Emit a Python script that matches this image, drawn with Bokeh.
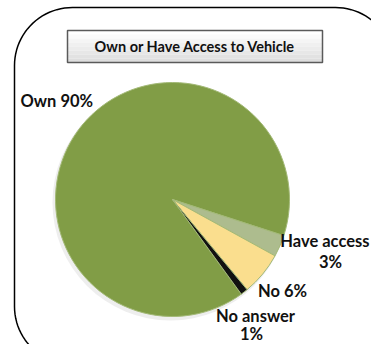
import numpy as np
from bokeh.plotting import figure
from bokeh.models import Range1d, ColumnDataSource
from bokeh.core.properties import value
from bokeh.embed import file_html
from bokeh.resources import INLINE

# ---- data ----
categories = ["Own", "Have access", "No", "No answer"]
percents = [90, 3, 6, 1]
label_lines = ["Own 90%", "Have access", "3%", "No 6%", "No answer", "1%"]
colors = ["#819D46", "#ADBC8E", "#FADE8E", "#111111"]
title_text = "Own or Have Access to Vehicle"

W, H = 371, 344
p = figure(width=W, height=H, output_backend="svg", toolbar_location=None,
           x_range=Range1d(0, 371), y_range=Range1d(0, 344),
           min_border=0, outline_line_color=None, background_fill_color="white")
p.axis.visible = False
p.grid.visible = False

def sy(v):
    return 344 - v

# rounded frame
def rounded_path(x0, x1, y0, y1, r, n=24):
    xs, ys = [], []
    corners = [(x1 - r, y1 - r, 0, 90), (x0 + r, y1 - r, 90, 180),
               (x0 + r, y0 + r, 180, 270), (x1 - r, y0 + r, 270, 360)]
    for cx, cy, a0, a1 in corners:
        t = np.radians(np.linspace(a0, a1, n))
        xs.extend(cx + r * np.cos(t))
        ys.extend(cy + r * np.sin(t))
    xs.append(xs[0]); ys.append(ys[0])
    return xs, ys

fx, fy = rounded_path(14, 393, sy(364), sy(7), 58)
p.line(fx, fy, line_color="black", line_width=1.5)

# title box with slight gradient
bx0, bx1, by0, by1 = 67, 322, sy(62), sy(30)
steps = 8
for i in range(steps):
    g = int(255 - (255 - 222) * i / (steps - 1))
    hh = (by1 - by0) / steps
    top = by1 - i * hh
    p.quad(left=bx0, right=bx1, top=top, bottom=top - hh,
           fill_color=(g, g, g), line_color=None)
p.quad(left=bx0, right=bx1, top=by1, bottom=by0, fill_color=None,
       line_color="#5A5A5A", line_width=1.5)
p.text(x=[(bx0 + bx1) / 2], y=[(by0 + by1) / 2], text=[title_text],
       text_font=value("Lato"), text_font_style="bold", text_font_size="14.5px",
       text_align="center", text_baseline="middle", text_color="#111111")

# pie
cx, cy, r = 172, sy(199), 117
vals = np.array(percents, dtype=float)
ang = vals / vals.sum() * 360.0
# order anticlockwise: No answer, No, Have access, Own
order = [3, 2, 1, 0]
theta0 = -54.0
starts, ends = [0.0] * 4, [0.0] * 4
a = theta0
for i in order:
    starts[i] = a
    ends[i] = a + ang[i]
    a += ang[i]

# faint shadow
p.circle(x=[cx - 2], y=[cy - 3], radius=r + 1, fill_color="#DDDDDD",
         line_color=None, fill_alpha=0.5)

src = ColumnDataSource(dict(start=starts, end=ends, color=colors, cat=categories))
p.wedge(x=cx, y=cy, radius=r, start_angle="start", end_angle="end",
        start_angle_units="deg", end_angle_units="deg",
        fill_color="color", line_color="#A3B977", line_width=1, source=src)

# labels
lsrc = ColumnDataSource(dict(
    x=[20, 369, 330, 282, 255, 251],
    y=[sy(100), sy(240), sy(261), sy(290), sy(315), sy(333)],
    text=label_lines,
    align=["left", "right", "center", "center", "center", "center"],
))
p.text(x="x", y="y", text="text", text_align="align", source=lsrc,
       text_baseline="middle", text_font=value("Lato"), text_font_style="bold",
       text_font_size="16.5px", text_color="#111111")

open("out.html", "w").write(file_html(p, INLINE))
